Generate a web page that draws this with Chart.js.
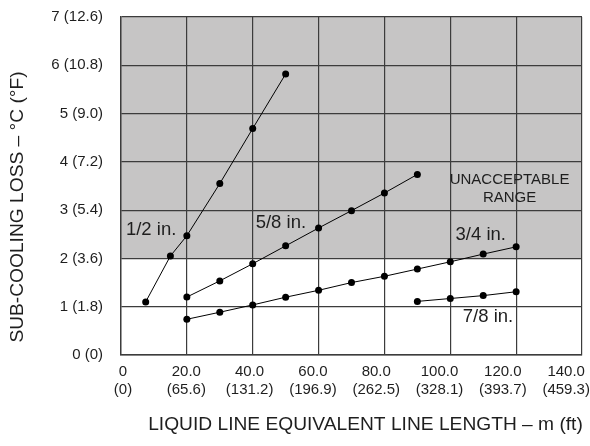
<!DOCTYPE html>
<html>
<head>
<meta charset="utf-8">
<script src="https://cdn.jsdelivr.net/npm/chart.js@4/dist/chart.umd.min.js"></script>
<style>
  html, body { margin: 0; padding: 0; background: #ffffff; }
  #wrap { width: 590px; height: 446px; }
</style>
</head>
<body>
<div id="wrap"><canvas id="c" width="590" height="446"></canvas></div>
<script>
// ---- data ----
const halfX = [7.5, 15, 20, 30, 40, 50];
const halfY = [1.1, 2.05, 2.47, 3.55, 4.69, 5.82];

const fiveEighthX = [20, 30, 40, 50, 60, 70, 80, 90];
const fiveEighthY = [1.2, 1.535, 1.89, 2.26, 2.63, 2.99, 3.355, 3.74];

const threeQuarterX = [20, 30, 40, 50, 60, 70, 80, 90, 100, 110, 120];
const threeQuarterY = [0.74, 0.886, 1.037, 1.197, 1.34, 1.5, 1.63, 1.78, 1.93, 2.09, 2.24];

const sevenEighthX = [90, 100, 110, 120];
const sevenEighthY = [1.11, 1.17, 1.23, 1.31];

const xTickValues = [0, 20, 40, 60, 80, 100, 120, 140];
const xTickMetres = ['0', '20.0', '40.0', '60.0', '80.0', '100.0', '120.0', '140.0'];
const xTickFeet = ['(0)', '(65.6)', '(131.2)', '(196.9)', '(262.5)', '(328.1)', '(393.7)', '(459.3)'];
const yTickLabels = ['0 (0)', '1 (1.8)', '2 (3.6)', '3 (5.4)', '4 (7.2)', '5 (9.0)', '6 (10.8)', '7 (12.6)'];

const unacceptableFrom = 2;
const xTitle = 'LIQUID LINE EQUIVALENT LINE LENGTH \u2013 m (ft)';
const yTitle = 'SUB-COOLING LOSS \u2013 \u00B0C (\u00B0F)';

// ---- styling ----
const FONT = "'Liberation Sans', Arial, Helvetica, sans-serif";
const GRID = '#3c3c3c';
const TEXT = '#1e1e1e';
const SHADE = '#c6c5c5';

function pts(xs, ys) { return xs.map((x, i) => ({ x: x, y: ys[i] })); }
function series(label, xs, ys) {
  return {
    label: label,
    data: pts(xs, ys),
    showLine: true,
    borderColor: '#000000',
    backgroundColor: '#000000',
    borderWidth: 1,
    pointRadius: 3.5,
    pointHoverRadius: 3.5,
    pointBorderWidth: 0,
    tension: 0
  };
}
function noPad(s) { s.paddingTop = 0; s.paddingBottom = 0; s.paddingLeft = 0; s.paddingRight = 0; }

const shadePlugin = {
  id: 'shade',
  beforeDraw(chart) {
    const { ctx, scales: { x, y } } = chart;
    const l = x.getPixelForValue(x.min), r = x.getPixelForValue(x.max);
    const t = y.getPixelForValue(y.max), b = y.getPixelForValue(unacceptableFrom);
    ctx.save();
    ctx.fillStyle = SHADE;
    ctx.fillRect(l, t, r - l, b - t);
    ctx.restore();
  }
};

const textPlugin = {
  id: 'texts',
  afterDraw(chart) {
    const { ctx, scales: { x, y } } = chart;
    ctx.save();
    ctx.fillStyle = TEXT;
    ctx.textBaseline = 'middle';
    ctx.font = '18.5px ' + FONT;
    ctx.textAlign = 'left';
    [['1/2 in.', 1.5, 2.59], ['5/8 in.', 40.9, 2.74], ['3/4 in.', 101.6, 2.49], ['7/8 in.', 103.8, 0.79]]
      .forEach(([s, vx, vy]) => ctx.fillText(s, x.getPixelForValue(vx), y.getPixelForValue(vy)));
    ctx.font = '15px ' + FONT;
    ctx.textAlign = 'center';
    ctx.fillText('UNACCEPTABLE', x.getPixelForValue(118), y.getPixelForValue(3.63));
    ctx.fillText('RANGE', x.getPixelForValue(118), y.getPixelForValue(3.26));
    ctx.font = '19.2px ' + FONT;
    ctx.fillText(xTitle, 365.5, 425);
    ctx.translate(18, 207);
    ctx.rotate(-Math.PI / 2);
    ctx.fillText(yTitle, 0, 0);
    ctx.restore();
  }
};

new Chart(document.getElementById('c'), {
  type: 'scatter',
  data: {
    datasets: [
      series('1/2 in.', halfX, halfY),
      series('5/8 in.', fiveEighthX, fiveEighthY),
      series('3/4 in.', threeQuarterX, threeQuarterY),
      series('7/8 in.', sevenEighthX, sevenEighthY)
    ]
  },
  options: {
    responsive: false,
    animation: false,
    events: [],
    layout: { autoPadding: false, padding: { top: 17, right: 8, left: 0, bottom: 0 } },
    plugins: { legend: { display: false }, tooltip: { enabled: false } },
    scales: {
      x: {
        type: 'linear',
        position: 'bottom',
        min: 0,
        max: 140,
        ticks: { display: false, stepSize: 20 },
        grid: { color: GRID, lineWidth: 1.2, drawTicks: false },
        border: { color: GRID, width: 1.4 },
        afterFit(s) { s.height = 0; noPad(s); }
      },
      xLabels: {
        type: 'linear',
        position: 'bottom',
        min: -0.63,
        max: 145.0,
        afterBuildTicks(s) { s.ticks = xTickValues.map(v => ({ value: v })); },
        ticks: {
          autoSkip: false,
          maxRotation: 0,
          padding: 7.7,
          color: TEXT,
          font: { family: FONT, size: 15 },
          callback: (v, i) => [xTickMetres[i], xTickFeet[i]]
        },
        grid: { display: false, drawTicks: false },
        border: { display: false },
        afterFit(s) { s.height = 91; noPad(s); }
      },
      y: {
        type: 'linear',
        min: 0,
        max: 7,
        ticks: {
          stepSize: 1,
          padding: 18,
          color: TEXT,
          font: { family: FONT, size: 15 },
          callback: (v, i) => yTickLabels[i]
        },
        grid: { color: GRID, lineWidth: 1.2, drawTicks: false },
        border: { color: GRID, width: 1.4 },
        afterFit(s) { s.width = 121; noPad(s); }
      }
    }
  },
  plugins: [shadePlugin, textPlugin]
});
</script>
</body>
</html>
